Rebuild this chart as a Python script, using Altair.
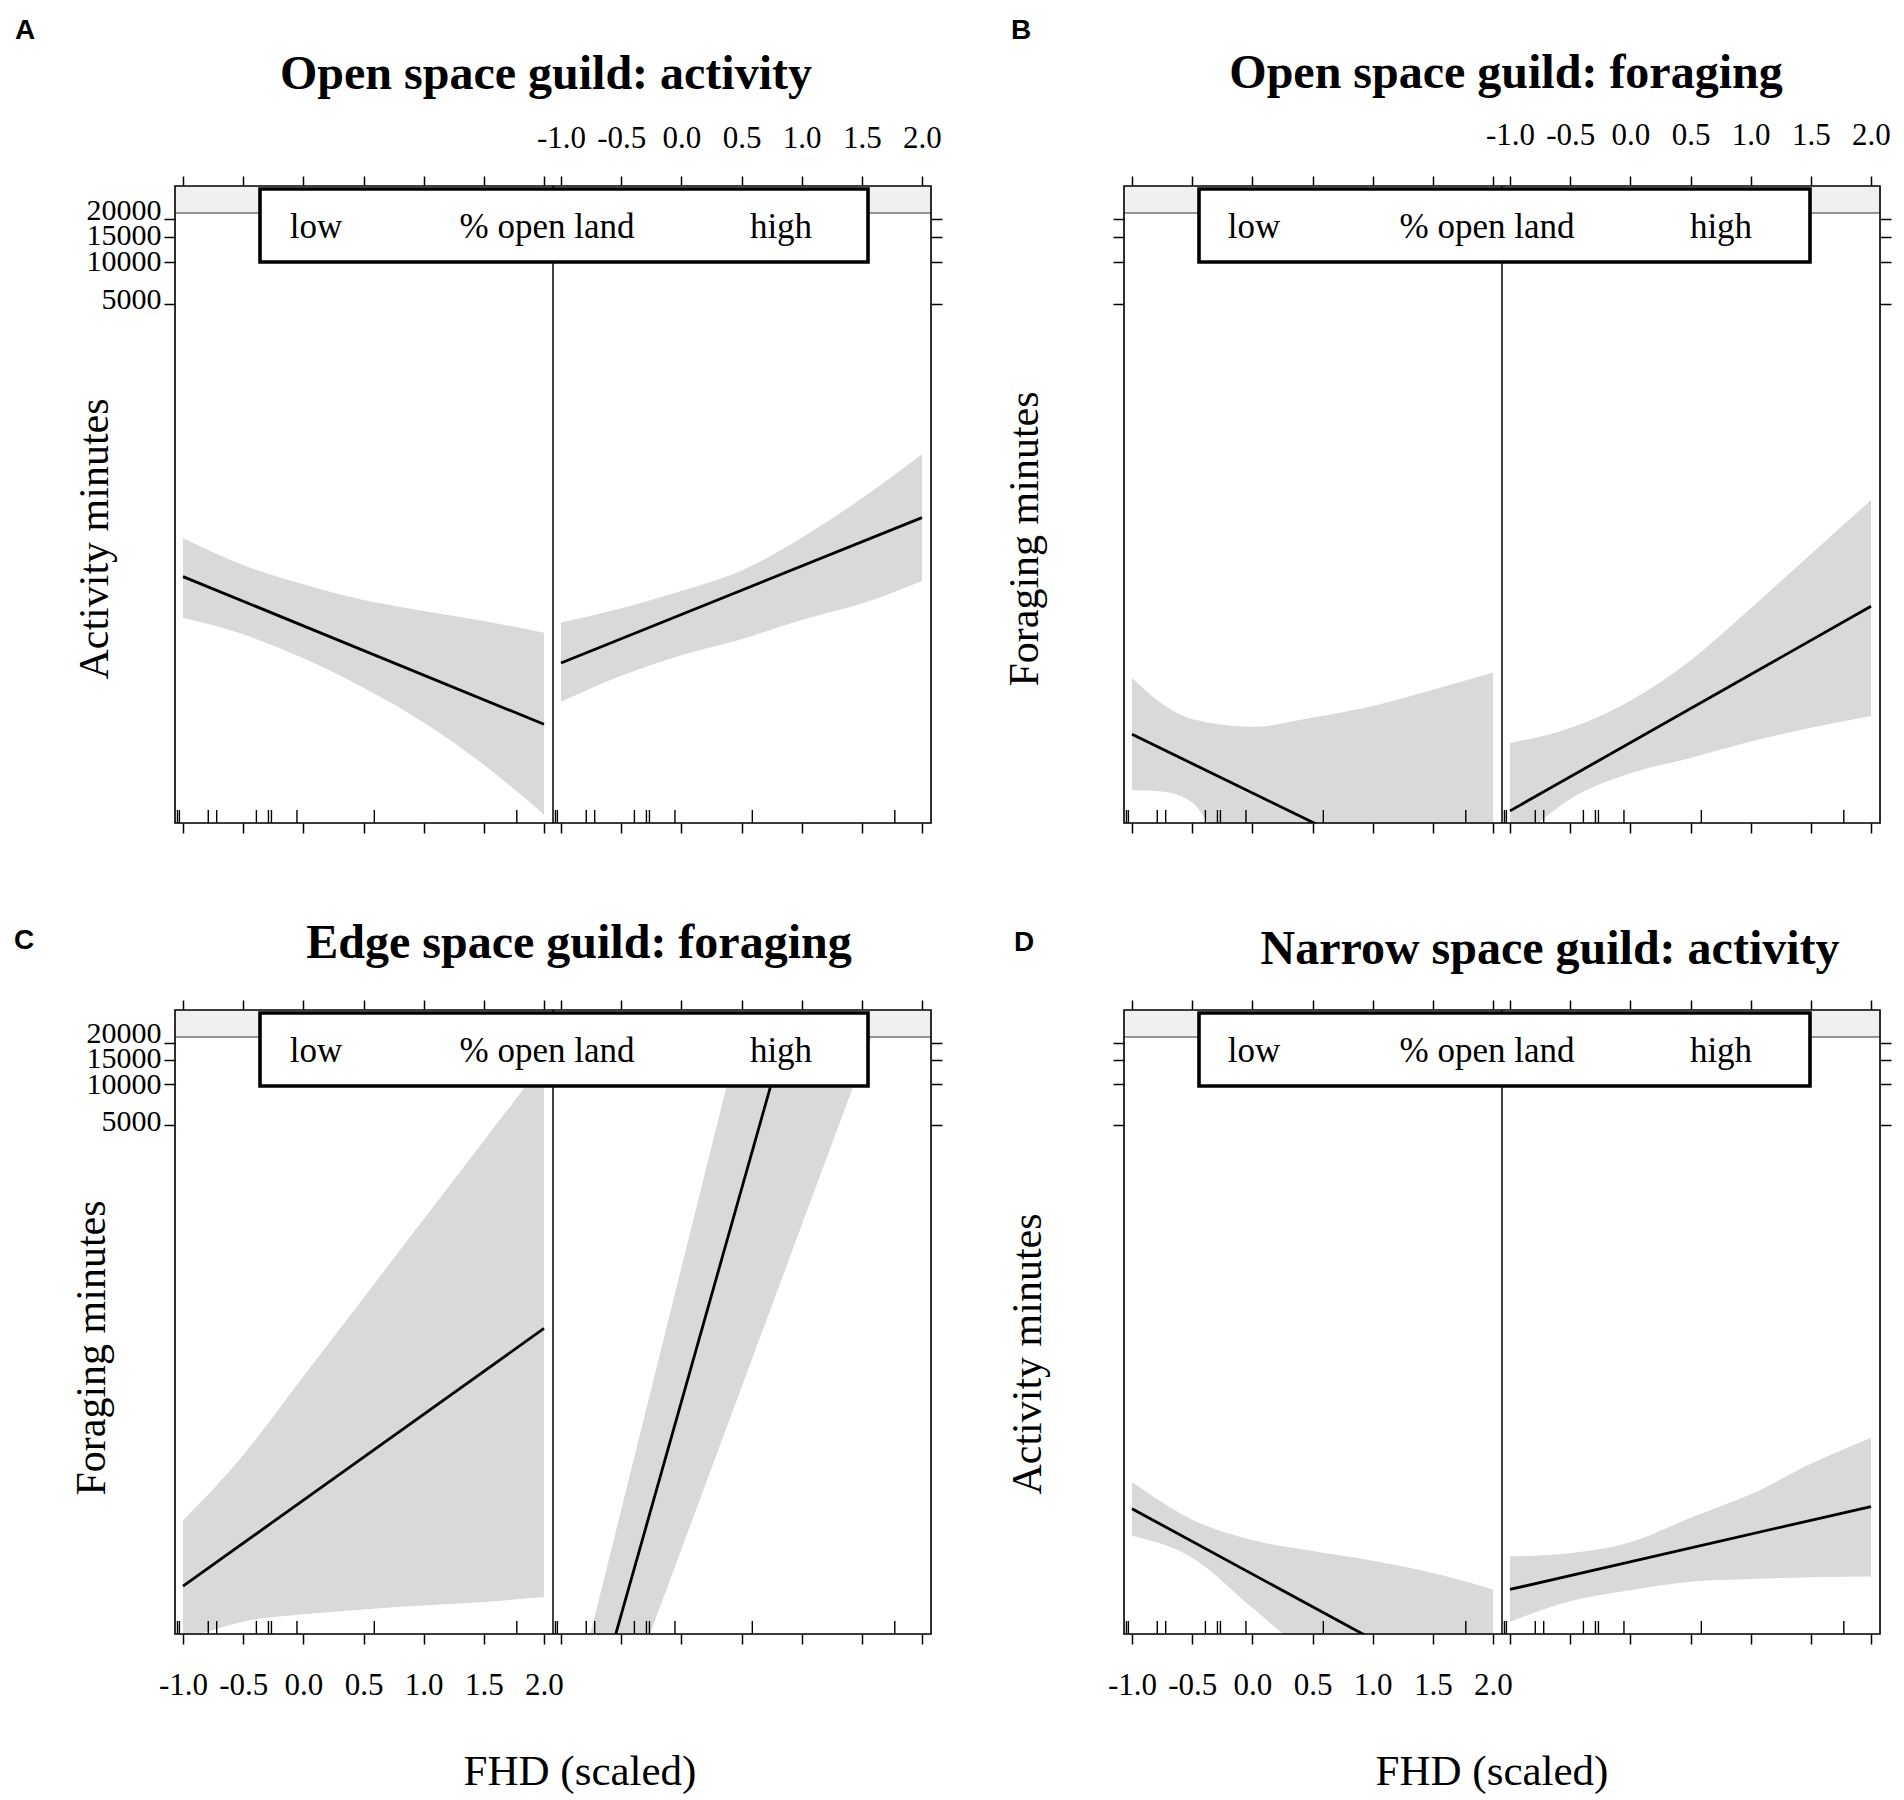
import altair as alt
import pandas as pd

# ---------------- values ----------------
# x = FHD (scaled); y = predicted minutes (log axis)
FHD = [-1.0, -0.5, 0.0, 0.5, 1.0, 1.5, 2.0]
FHD_B_LOW = [-1.0, -0.75, -0.5, 0.0, 0.5, 1.0, 1.5, 2.0]
FIT_X = [-1.0, 2.0]

# A: Open space guild: activity
A_low_upper = [107, 69.0, 50.2, 38.8, 32.4, 27.5, 22.7]
A_low_lower = [29.0, 22.1, 14.9, 9.2, 5.2, 2.6, 1.15]
A_low_fit = [57.0, 5.05]
A_high_upper = [26.8, 33.9, 45.0, 63.0, 108, 206, 424]
A_high_lower = [7.3, 11.2, 15.7, 20.4, 28.0, 36.6, 53.1]
A_high_fit = [13.8, 150]

# B: Open space guild: foraging
B_low_upper = [10.85, 7.08, 5.51, 4.85, 5.64, 6.83, 8.89, 11.8]
B_low_lower = [1.71, 1.68, 1.40, 0.2, 0.06, 0.02, 0.008, 0.003]
B_low_fit = [4.29, 0.239]
B_high_upper = [3.72, 4.75, 7.44, 14.4, 33.9, 82.3, 200]
B_high_lower = [0.65, 1.48, 2.26, 2.91, 3.81, 4.78, 5.79]
B_high_fit = [1.22, 35.0]

# C: Edge space guild: foraging
C_low_upper = [6.69, 20.0, 74.7, 278, 1038, 3870, 14430]
C_low_lower = [0.9, 1.23, 1.39, 1.51, 1.61, 1.71, 1.86]
C_low_fit = [2.23, 167]
C_high_upper = [0.139, 7.97, 459, 26400, 1.51e6, 8.7e7, 5.0e9]
C_high_lower = [0.018, 0.273, 4.12, 62.2, 939, 14200, 214000]
C_high_fit = [0.039, 7.6e7]

# D: Narrow space guild: activity
D_low_upper = [12.73, 6.79, 4.82, 4.01, 3.41, 2.78, 2.11]
D_low_lower = [5.18, 3.59, 1.55, 0.68, 0.36, 0.2, 0.11]
D_low_fit = [8.15, 0.306]
D_high_upper = [3.67, 3.87, 4.64, 7.0, 10.37, 17.3, 26.8]
D_high_lower = [1.23, 1.73, 2.08, 2.40, 2.51, 2.59, 2.62]
D_high_fit = [2.11, 8.46]

# rug: observed FHD values
RUG = [-1.046, -1.03, -0.79, -0.72, -0.39, -0.29, -0.265, -0.053, 0.59, 1.774]

Y_TICKS = [5000, 10000, 15000, 20000]
X_TICKS = [-1.0, -0.5, 0.0, 0.5, 1.0, 1.5, 2.0]
STRIP_LEVELS = ["low", "% open land", "high"]

# ---------------- layout / style ----------------
SERIF = "Liberation Serif"
SANS = "Liberation Sans"
OFFSET = 3.1413          # shift of the "high" sub-panel on the shared x scale
XDOM = [-1.0665, 2 * OFFSET - 1.0665]
YDOM = [1, 34600]
W = 756
BAND = "#d9d9d9"
STRIP = "#f0f0f0"
ALL_XTICKS = X_TICKS + [round(v + OFFSET, 4) for v in X_TICKS]

LOW_EXPR = ("datum.value < 2.1 ? ((datum.value < -0.01 ? '-' : '') + "
            "format(abs(datum.value), '.1f')) : ''")
HIGH_EXPR = ("datum.value > 2.1 ? ((datum.value - 3.1413 < -0.01 ? '-' : '') + "
             "format(abs(datum.value - 3.1413), '.1f')) : ''")

Y_LABEL_OFFSET = {
    "condition": [
        {"test": "datum.value == 20000", "value": -9},
        {"test": "datum.value == 15000", "value": -1},
        {"test": "datum.value == 5000", "value": -4},
    ],
    "value": 0,
}


def band_df(xs, up, lo):
    return pd.DataFrame({"x": xs, "upper": up, "lower": lo})


def fit_df(fl, fh):
    rows = [dict(sub="low", x=a, fit=b) for a, b in zip(FIT_X, fl)]
    rows += [dict(sub="high", x=a, fit=b) for a, b in zip(FIT_X, fh)]
    return pd.DataFrame(rows)


RUG_DF = pd.DataFrame([dict(sub=s, x=v) for s in ("low", "high") for v in RUG])

PANELS = [
    dict(key="A", title="Open space guild: activity", ylab="Activity minutes", h=637,
         title_xy=(371, -97), letter_xy=(-150, -155), ylab_xy=(-80, 353),
         ylabels=True, top_labels=True, top_pad=22, bottom_labels=False,
         box=(85, 693), box_text=(141, 372, 606), xlab=None, anchor=True,
         low=band_df(FHD, A_low_upper, A_low_lower),
         high=band_df(FHD, A_high_upper, A_high_lower), high_interp="monotone",
         fit=fit_df(A_low_fit, A_high_fit)),
    dict(key="B", title="Open space guild: foraging", ylab="Foraging minutes", h=637,
         title_xy=(382, -98), letter_xy=(-103, -155), ylab_xy=(-99, 353),
         ylabels=False, top_labels=True, top_pad=25, bottom_labels=False,
         box=(75, 686), box_text=(130, 363, 597), xlab=None, anchor=False,
         low=band_df(FHD_B_LOW, B_low_upper, B_low_lower),
         high=band_df(FHD, B_high_upper, B_high_lower), high_interp="monotone",
         fit=fit_df(B_low_fit, B_high_fit)),
    dict(key="C", title="Edge space guild: foraging", ylab="Foraging minutes", h=624,
         title_xy=(404, -52), letter_xy=(-151, -69), ylab_xy=(-83, 338),
         ylabels=True, top_labels=False, bottom_labels=True, bottom_pad=26.5,
         box=(85, 693), box_text=(141, 372, 606), xlab=(405, 775), anchor=False,
         low=band_df(FHD, C_low_upper, C_low_lower),
         high=band_df(FHD, C_high_upper, C_high_lower), high_interp="linear",
         fit=fit_df(C_low_fit, C_high_fit)),
    dict(key="D", title="Narrow space guild: activity", ylab="Activity minutes", h=624,
         title_xy=(426, -46), letter_xy=(-100, -67), ylab_xy=(-96, 344),
         ylabels=False, top_labels=False, bottom_labels=True, bottom_pad=26.5,
         box=(75, 686), box_text=(130, 363, 597), xlab=(368, 775), anchor=False,
         low=band_df(FHD, D_low_upper, D_low_lower),
         high=band_df(FHD, D_high_upper, D_high_lower), high_interp="monotone",
         fit=fit_df(D_low_fit, D_high_fit)),
]


def xaxis(orient, labels, expr=None, pad=0):
    kw = dict(orient=orient, values=ALL_XTICKS, tickSize=10, tickWidth=1.5,
              tickColor="black", domain=False, grid=False, title=None, labels=labels)
    if labels:
        kw.update(labelExpr=expr, labelFont=SERIF, labelFontSize=31, labelColor="black",
                  labelPadding=pad, labelOverlap=False, labelFlush=False)
    return alt.Axis(**kw)


def yaxis(orient, labels):
    kw = dict(orient=orient, values=Y_TICKS, tickSize=11, tickWidth=1.5,
              tickColor="black", domain=False, grid=False, title=None, labels=labels)
    if labels:
        kw.update(format="d", labelFont=SERIF, labelFontSize=30, labelColor="black",
                  labelPadding=3, labelOverlap=False, labelFlush=False,
                  labelOffset=Y_LABEL_OFFSET)
    return alt.Axis(**kw)


ONE = pd.DataFrame({"k": [0]})
CALC = "datum.x + (datum.sub === 'high' ? 3.1413 : 0)"
CALC_HIGH = "datum.x + 3.1413"


def build(cfg):
    H = cfg["h"]
    xs = alt.Scale(domain=XDOM, nice=False, zero=False)
    ys = alt.Scale(type="log", domain=YDOM, nice=False)

    ax_bottom = xaxis("bottom", cfg["bottom_labels"], LOW_EXPR, cfg.get("bottom_pad", 0))
    ax_top = xaxis("top", cfg["top_labels"], HIGH_EXPR, cfg.get("top_pad", 0))

    band_low = alt.Chart(cfg["low"]).transform_calculate(xp="datum.x").mark_area(
        color=BAND, clip=True, opacity=1, interpolate="monotone").encode(
        x=alt.X("xp:Q", scale=xs, axis=ax_bottom),
        y=alt.Y("upper:Q", scale=ys, axis=yaxis("left", cfg["ylabels"])),
        y2="lower")
    band_high = alt.Chart(cfg["high"]).transform_calculate(xp=CALC_HIGH).mark_area(
        color=BAND, clip=True, opacity=1, interpolate=cfg["high_interp"]).encode(
        x=alt.X("xp:Q", scale=xs, axis=None),
        y=alt.Y("upper:Q", scale=ys, axis=None),
        y2="lower")

    fit = alt.Chart(cfg["fit"]).transform_calculate(xp=CALC).mark_line(
        color="black", strokeWidth=2.8, clip=True).encode(
        x=alt.X("xp:Q", scale=xs, axis=ax_top),
        y=alt.Y("fit:Q", scale=ys, axis=yaxis("right", False)),
        detail="sub:N")

    strip = alt.Chart(ONE).mark_rect(color=STRIP).encode(
        x=alt.value(0), x2=alt.value(W), y=alt.value(0), y2=alt.value(27))
    strip_line = alt.Chart(ONE).mark_rule(color="#333333", strokeWidth=1.2).encode(
        x=alt.value(0), x2=alt.value(W), y=alt.value(27))
    divider = alt.Chart(ONE).mark_rule(color="black", strokeWidth=1.5).encode(
        x=alt.value(W / 2), y=alt.value(0), y2=alt.value(H))
    bx0, bx1 = cfg["box"]
    box = alt.Chart(ONE).mark_rect(fill="white", stroke="black", strokeWidth=3.6).encode(
        x=alt.value(bx0), x2=alt.value(bx1), y=alt.value(3), y2=alt.value(76))
    texts = [
        alt.Chart(ONE).mark_text(text=t, font=SERIF, fontSize=35, color="black",
                                 align="center", baseline="alphabetic").encode(
            x=alt.value(px), y=alt.value(52))
        for t, px in zip(STRIP_LEVELS, cfg["box_text"])
    ]
    rug = alt.Chart(RUG_DF).transform_calculate(xp=CALC).mark_rule(
        color="black", strokeWidth=1.4).encode(
        x=alt.X("xp:Q", scale=xs, axis=None),
        y=alt.value(H - 13), y2=alt.value(H))
    border = alt.Chart(ONE).mark_rect(fillOpacity=0, stroke="black", strokeWidth=1.6).encode(
        x=alt.value(0), x2=alt.value(W), y=alt.value(0), y2=alt.value(H))

    tx, ty = cfg["title_xy"]
    title = alt.Chart(ONE).mark_text(text=cfg["title"], font=SERIF, fontWeight="bold",
                                     fontSize=48, color="black", align="center",
                                     baseline="alphabetic").encode(
        x=alt.value(tx), y=alt.value(ty))
    lx, ly = cfg["letter_xy"]
    letter = alt.Chart(ONE).mark_text(text=cfg["key"], font=SANS, fontWeight="bold",
                                      fontSize=28, color="black", align="center",
                                      baseline="middle").encode(
        x=alt.value(lx), y=alt.value(ly))
    yx, yy = cfg["ylab_xy"]
    ylab = alt.Chart(ONE).mark_text(text=cfg["ylab"], font=SERIF, fontSize=42,
                                    color="black", align="center", baseline="middle",
                                    angle=270).encode(
        x=alt.value(yx), y=alt.value(yy))

    layers = [band_low, band_high, fit, strip, strip_line, divider, box] + texts + [
        rug, border, title, letter, ylab]
    if cfg["xlab"] is not None:
        xx, xy = cfg["xlab"]
        layers.append(alt.Chart(ONE).mark_text(text="FHD (scaled)", font=SERIF, fontSize=43,
                                               color="black", align="center",
                                               baseline="alphabetic").encode(
            x=alt.value(xx), y=alt.value(xy)))
    if cfg["anchor"]:
        layers.append(alt.Chart(ONE).mark_rect(color="white").encode(
            x=alt.value(-166), x2=alt.value(-165), y=alt.value(-177), y2=alt.value(-176)))

    return alt.layer(*layers).resolve_axis(x="independent", y="independent").properties(
        width=W, height=H)


charts = [build(c) for c in PANELS]

chart = alt.concat(*charts, columns=2, spacing={"row": 187, "column": 193},
                   bounds="flush").properties(
    padding=0, background="white").configure_view(stroke="transparent").configure(
    font=SERIF)

chart.save("out.html", embed_options={"renderer": "svg", "actions": False})
